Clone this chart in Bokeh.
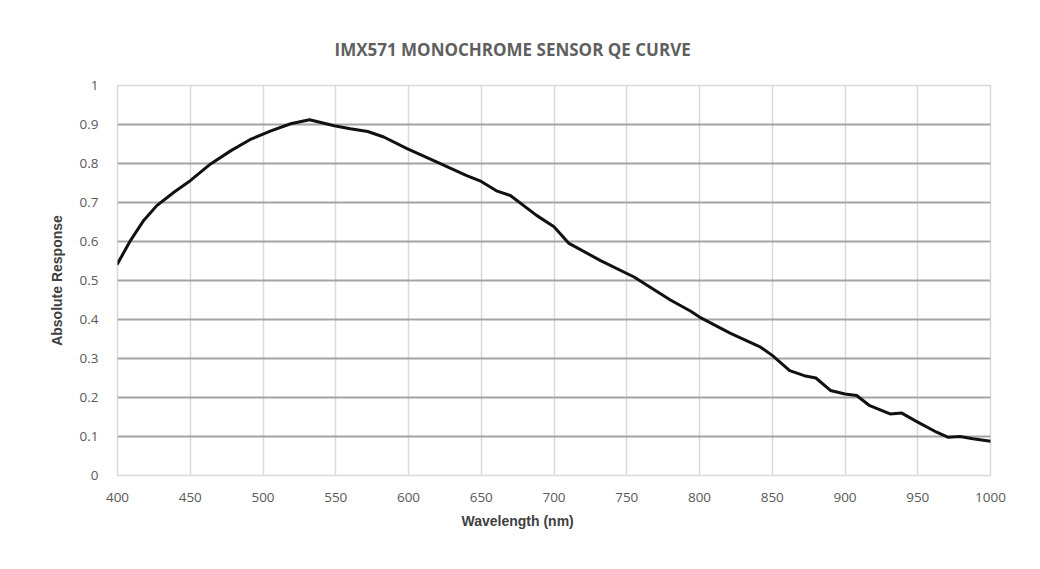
from bokeh.plotting import figure
from bokeh.models import Range1d, FixedTicker, Title
from bokeh.embed import file_html
from bokeh.resources import INLINE

# Data
wavelength = [400, 409, 418, 427, 439, 450, 464, 478, 491, 505, 519, 532, 549, 560,
              572, 583, 599, 620, 640, 650, 661, 670, 688, 700, 710, 732, 755, 780,
              794, 801, 821, 842, 850, 862, 872, 880, 890, 900, 908, 917, 931, 939,
              950, 963, 971, 979, 988, 1000]
response = [0.543, 0.603, 0.654, 0.692, 0.727, 0.756, 0.799, 0.833, 0.861, 0.883,
            0.902, 0.912, 0.897, 0.889, 0.882, 0.868, 0.838, 0.803, 0.769, 0.754,
            0.729, 0.718, 0.667, 0.638, 0.596, 0.551, 0.509, 0.45, 0.421, 0.404,
            0.365, 0.329, 0.308, 0.269, 0.256, 0.25, 0.218, 0.209, 0.205, 0.179,
            0.158, 0.16, 0.137, 0.111, 0.098, 0.10, 0.094, 0.088]
x_ticks = [400, 450, 500, 550, 600, 650, 700, 750, 800, 850, 900, 950, 1000]
y_ticks = [0, 0.1, 0.2, 0.3, 0.4, 0.5, 0.6, 0.7, 0.8, 0.9, 1]
y_tick_labels = ["0", "0.1", "0.2", "0.3", "0.4", "0.5", "0.6", "0.7", "0.8", "0.9", "1"]
title_text = "IMX571 MONOCHROME SENSOR QE CURVE"
x_title = "Wavelength (nm)"
y_title = "Absolute Response"

p = figure(width=1024, height=553, output_backend="svg", toolbar_location=None,
           x_range=Range1d(400, 1000), y_range=Range1d(0, 1),
           min_border_left=117, min_border_right=34, min_border_top=85,
           min_border_bottom=78)
p.background_fill_color = "white"
p.border_fill_color = "white"
p.outline_line_color = "#d9d9d9"
p.outline_line_width = 1.5

p.title.text = title_text
p.title.text_font = "Open Sans"
p.title.text_font_style = "bold"
p.title.text_font_size = "17px"
p.title.text_color = "#5f5f5f"
p.title.align = "left"
p.title.offset = 217
p.title.standoff = 50

p.xaxis.ticker = FixedTicker(ticks=x_ticks)
p.yaxis.ticker = FixedTicker(ticks=y_ticks)
p.yaxis.major_label_overrides = {t: l for t, l in zip(y_ticks, y_tick_labels)}

for ax in (p.xaxis, p.yaxis):
    ax.axis_line_color = None
    ax.major_tick_line_color = None
    ax.minor_tick_line_color = None
    ax.major_label_text_font = "Open Sans"
    ax.major_label_text_font_size = "13.5px"
    ax.major_label_text_color = "#595959"
p.xaxis.major_label_standoff = 11
p.yaxis.major_label_standoff = 13

p.yaxis.axis_label = y_title
p.yaxis.axis_label_text_font = "Liberation Sans"
p.yaxis.axis_label_text_font_style = "bold"
p.yaxis.axis_label_text_font_size = "14px"
p.yaxis.axis_label_text_color = "#404040"
p.yaxis.axis_label_standoff = 12

p.add_layout(Title(text=x_title, align="left", offset=344, standoff=12,
                   text_font="Liberation Sans", text_font_style="bold",
                   text_font_size="14px", text_color="#404040"), "below")

p.xgrid.ticker = FixedTicker(ticks=x_ticks)
p.xgrid.grid_line_color = "#d9d9d9"
p.xgrid.grid_line_width = 1.5
p.ygrid.ticker = FixedTicker(ticks=y_ticks[1:])
p.ygrid.grid_line_color = "#a3a3a3"
p.ygrid.grid_line_width = 2

p.line(wavelength, response, line_color="#111111", line_width=3, line_join="round",
       line_cap="round")

open("out.html", "w").write(file_html(p, INLINE))
